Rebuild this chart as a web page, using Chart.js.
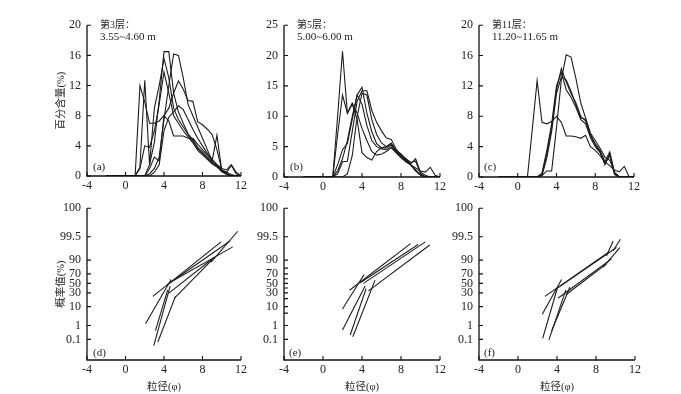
<!DOCTYPE html>
<html><head><meta charset="utf-8">
<script src="https://cdn.jsdelivr.net/npm/chart.js@4/dist/chart.umd.min.js"></script>
<style>
html,body{margin:0;padding:0;background:#fff;}
body{width:681px;height:394px;position:relative;overflow:hidden;}
canvas{position:absolute;}
.t{position:absolute;white-space:nowrap;color:#222;font-family:"Liberation Serif","Noto Sans CJK SC",serif;}
.cn{font-size:10px;line-height:12px;}
.nm{font-size:11px;line-height:13px;}
</style></head><body>
<canvas id="ca"></canvas><canvas id="cb"></canvas><canvas id="cc"></canvas>
<canvas id="cd"></canvas><canvas id="ce"></canvas><canvas id="cf"></canvas>
<div class="t cn" style="left:100px;top:19px">第3层：</div>
<div class="t nm" style="left:100px;top:29.5px">3.55~4.60 m</div>
<div class="t cn" style="left:297px;top:19px">第5层：</div>
<div class="t nm" style="left:297px;top:29.5px">5.00~6.00 m</div>
<div class="t cn" style="left:492px;top:19px">第11层：</div>
<div class="t nm" style="left:492px;top:29.5px">11.20~11.65 m</div>
<div class="t nm" style="left:93px;top:160px">(a)</div>
<div class="t nm" style="left:290px;top:160px">(b)</div>
<div class="t nm" style="left:484px;top:160px">(c)</div>
<div class="t nm" style="left:93px;top:345.5px">(d)</div>
<div class="t nm" style="left:289px;top:345.5px">(e)</div>
<div class="t nm" style="left:484px;top:345.5px">(f)</div>
<script>
// ---------- data ----------
const phi = [-2,-1.5,-1,-0.5,0,0.5,1,1.5,2,2.5,3,3.5,4,4.5,5,5.5,6,6.5,7,7.5,8,8.5,9,9.5,10,10.5,11,11.5,12];
const xTicks = [-4,0,4,8,12];

// panel (a) 第3层 percentages
const a1 = [0,0,0,0,0,0,0,12,9.8,7,7,7.3,8,7.3,5.3,5.3,5.3,5,5,4.2,3.5,2.8,2,1.5,0.8,0.5,1.4,0.3,0];
const a2 = [0,0,0,0,0,0,0,1.2,12.7,1.5,9,12,15.6,13,9,7.5,6.5,5.5,4.6,3.6,3,2.4,1.7,1.3,0.6,0.3,0,0,0];
const a3 = [0,0,0,0,0,0,0,0,0,1.5,4.5,10,16.5,16.5,11,8.5,7,5.6,4.8,3.8,3.2,2.5,1.8,1.4,0.6,0.2,0,0,0];
const a4 = [0,0,0,0,0,0,0,0,0,0.3,1,2.5,7.5,12,16.2,16,13,9.5,8,6.5,5,3.5,2,5.4,0.7,0.3,0,0,0];
const a5 = [0,0,0,0,0,0,0,1,4,3.8,6,9.5,13.8,11,8,7,6,5.2,4.4,3.4,2.8,2.2,1.6,1.2,0.6,0.3,0,0,0];
const a6 = [0,0,0,0,0,0,0,0,0,1,2.5,2,8,9,11,12.6,11.5,10,9.9,7.2,6.8,6.2,5.5,3.5,0.8,0.5,0.2,0,0];
const a7 = [0,0,0,0,0,0,0,0,0,0,0.5,1.5,6,7.8,8.5,9.3,8.8,7.5,6.2,5,4,3,2.2,1.5,1,0.8,1.5,0.5,0];
// panel (b) 第5层
const b1 = [0,0,0,0,0,0,0,10,20.7,10.5,12,9.5,4,3.2,2.8,4.2,4.8,5,5.6,4.2,3.4,2.6,2,1,0.4,0,0,0,0];
const b2 = [0,0,0,0,0,0,0,7,13.5,10.5,12.2,10.5,8,6,4.2,3.6,3.8,4.2,4.8,4,3.2,2.5,2,1.5,1,0.8,1.6,0.3,0];
const b3 = [0,0,0,0,0,0,0,2,4.5,5.5,9.5,13.5,14.8,10.5,7.5,5.5,4.8,4.8,5.3,4.2,3.6,3,2.2,3,0.8,0.3,0,0,0];
const b4 = [0,0,0,0,0,0,0,0.5,2.5,2.6,7.5,12.5,14.2,14.2,11,9,7.6,6.4,6.2,4.6,3.6,2.8,2,1,0.3,0,0,0,0];
const b5 = [0,0,0,0,0,0,0,0,0,0.5,3.5,10,13.8,13.5,9.5,7,5.6,5,5.5,4.4,3.8,3,2.4,2.6,0.6,0,0,0,0];
const b6 = [0,0,0,0,0,0,0,1,3,6,10,13.5,12,8.5,6,5,4.6,4.5,5,4,3.2,2.6,2,1.2,0.4,0,0,0,0];
// panel (c) 第11层
const c1 = [0,0,0,0,0,0,0,6.3,12.7,7.2,7,7.3,8,7.2,5.4,5.4,5.3,5.1,5.5,4,3.5,2.8,2,1.5,0.9,0.7,1.4,0,0];
const c2 = [0,0,0,0,0,0,0,0,0,0.2,0.8,0.8,6.5,12.8,16.1,15.8,13,9.8,7.8,5.8,4.8,3.8,2.6,2.2,0.6,0,0,0,0];
const c3 = [0,0,0,0,0,0,0,0,0,0.3,3,6.5,11.5,14.3,12.5,11,9.8,8,7.4,5.5,4.4,3.5,2,3.3,0.5,0,0,0,0];
const c4 = [0,0,0,0,0,0,0,0,0,0.5,3.5,7,12,13.8,11.5,10.5,9.2,7.6,7,5.2,4,3.2,1.8,2.8,0.3,0,0,0,0];
const c5 = [0,0,0,0,0,0,0,0,0,0.2,2.5,6,11,13.2,12.8,11.3,9.5,7.8,7.6,5.6,4.2,3.3,1.6,3,0.4,0,0,0,0];

// probability plots: segments [phi1, P1(%), phi2, P2(%)]
const segD = [
 [2.08,1.3,4.74,58.5],[2.94,0.03,4.64,44],[3.11,0.45,4.39,36],[3.36,0.06,5.19,23.6],
 [2.84,23.6,9.93,98.9],[4.29,46.4,10.86,99.04],[4.57,51.4,11.14,97.8],[4.5,29.5,9.24,92.5],
 [5.09,20.9,8.99,90.3],[8.89,87.9,11.66,99.8]
];
const segE = [
 [2.0,7.9,4.22,68.7],[2.0,0.5,4.32,44.4],[2.79,0.22,4.42,38.6],[3.06,0.16,5.34,57.1],
 [2.72,35.2,8.98,98.6],[3.81,51.4,9.76,98.4],[4.15,50,10.5,98.9],[4.66,34,10.95,98.3]
];
const segF = [
 [2.49,4.4,4.47,58.5],[2.53,0.12,4.03,39.4],[3.17,0.09,4.91,36],[3.45,0.45,5.32,41.4],
 [2.76,23.6,9.25,95.6],[3.79,36,10.1,97.6],[4.13,20.9,9.59,91.2],[4.91,26.4,9.08,86],
 [9.08,93.7,9.76,99.04],[9.76,96.4,10.5,99.25],[8.74,81.6,10.44,97.6]
];
const probTicks = [0.1,1,10,30,50,70,90,99.5,100];
const probLabels = ['0.1','1','10','30','50','70','90','99.5','100'];
const probTicksE = [0.1,1,5,10,20,30,40,50,60,70,80,90,99.5,100];
const probLabelsE = ['0.1','1','','10','','30','','50','','70','','90','99.5','100'];
const PROBIT_MIN = -4.23, PROBIT_MAX = 4.15;

// ---------- helpers ----------
function probit(p){
 const a=[-39.69683028665376,220.9460984245205,-275.9285104469687,138.3577518672690,-30.66479806614716,2.506628277459239];
 const b=[-54.47609879822406,161.5858368580409,-155.6989798598866,66.80131188771972,-13.28068155288572];
 const c=[-0.007784894002430293,-0.3223964580411365,-2.400758277161838,-2.549732539343734,4.374664141464968,2.938163982698783];
 const d=[0.007784695709041462,0.3224671290700398,2.445134137142996,3.754408661907416];
 const pl=0.02425, ph=1-pl; let q,r;
 if(p<pl){q=Math.sqrt(-2*Math.log(p));return (((((c[0]*q+c[1])*q+c[2])*q+c[3])*q+c[4])*q+c[5])/((((d[0]*q+d[1])*q+d[2])*q+d[3])*q+1);}
 if(p<=ph){q=p-0.5;r=q*q;return (((((a[0]*r+a[1])*r+a[2])*r+a[3])*r+a[4])*r+a[5])*q/(((((b[0]*r+b[1])*r+b[2])*r+b[3])*r+b[4])*r+1);}
 q=Math.sqrt(-2*Math.log(1-p));return -(((((c[0]*q+c[1])*q+c[2])*q+c[3])*q+c[4])*q+c[5])/((((d[0]*q+d[1])*q+d[2])*q+d[3])*q+1);
}
const pv = p => p >= 100 ? PROBIT_MAX : probit(p/100);

const INK = '#1c1c1c';
const serif = '"Liberation Serif","Noto Sans CJK SC",serif';
const axesPlugin = {
 id:'axes',
 afterDraw(chart){
  const {ctx, chartArea:ca, scales} = chart;
  ctx.save();
  ctx.strokeStyle = '#111'; ctx.lineWidth = 1.3;
  ctx.beginPath();
  ctx.moveTo(ca.left, ca.top); ctx.lineTo(ca.left, ca.bottom); ctx.lineTo(ca.right, ca.bottom);
  ctx.stroke();
  ctx.lineWidth = 1.1;
  ctx.beginPath();
  scales.y.ticks.forEach(t=>{const y=scales.y.getPixelForValue(t.value); ctx.moveTo(ca.left, y); ctx.lineTo(ca.left+4, y);});
  scales.x.ticks.forEach(t=>{const x=scales.x.getPixelForValue(t.value); ctx.moveTo(x, ca.bottom); ctx.lineTo(x, ca.bottom-4);});
  ctx.stroke();
  ctx.restore();
 }
};

function makeChart(id, area, datasets, yOpts, xTitle, yTitle, xH){
 const cv = document.getElementById(id);
 const L = area.l-45, T = area.t-10, W = area.r+12-L, H = area.b+xH-T;
 cv.width = W; cv.height = H;
 cv.style.left = L+'px'; cv.style.top = T+'px'; cv.style.width = W+'px'; cv.style.height = H+'px';
 return new Chart(cv, {
  type:'line',
  data:{datasets},
  options:{
   responsive:false, animation:false, events:[],
   layout:{padding:{left:0,right:12,top:10,bottom:0}, autoPadding:false},
   plugins:{legend:{display:false}, tooltip:{enabled:false}},
   elements:{point:{radius:0}, line:{borderWidth:1.1, borderColor:INK, tension:0}},
   scales:{
    x:{type:'linear', min:-4, max:12,
       afterBuildTicks:s=>{s.ticks = xTicks.map(v=>({value:v}));},
       afterFit:s=>{s.height = xH;},
       grid:{display:false, drawTicks:false}, border:{display:false},
       ticks:{color:'#222', font:{family:serif, size:12}, padding:3, maxRotation:0, autoSkip:false},
       title:{display:!!xTitle, text:xTitle||'', color:'#222', font:{family:serif, size:10.5}, padding:{top:0,bottom:0}}},
    y:Object.assign({type:'linear',
       afterFit:s=>{s.width = 45;},
       grid:{display:false, drawTicks:false}, border:{display:false},
       title:{display:!!yTitle, text:yTitle||'', color:'#222', font:{family:serif, size:10.5}, padding:{top:13,bottom:0}}
    }, yOpts)
   }
  },
  plugins:[axesPlugin]
 });
}

function curves(list){
 return list.map(arr=>({data: phi.map((x,i)=>({x, y:arr[i]})), borderColor:INK, borderWidth:1.1, pointRadius:0, fill:false}));
}
function segs(list){
 return list.map(s=>({data:[{x:s[0], y:pv(s[1])},{x:s[2], y:pv(s[3])}], borderColor:INK, borderWidth:1.1, pointRadius:0, fill:false}));
}
function linY(max, step){
 return {min:0, max, ticks:{stepSize:step, color:'#222', font:{family:serif, size:12}, padding:6, autoSkip:false}};
}
function probY(ticks, labels){
 return {min:PROBIT_MIN, max:PROBIT_MAX,
  afterBuildTicks:s=>{s.ticks = ticks.map(p=>({value:pv(p)}));},
  ticks:{color:'#222', font:{family:serif, size:12}, padding:6, autoSkip:false, callback:(v,i)=>labels[i]}};
}

makeChart('ca', {l:87,r:241,t:21.7,b:175.7}, curves([a1,a2,a3,a4,a5,a6,a7]), linY(20,4), null, '百分含量(%)', 26);
makeChart('cb', {l:284,r:440.3,t:21.7,b:176.7}, curves([b1,b2,b3,b4,b5,b6]), linY(25,5), null, null, 26);
makeChart('cc', {l:479,r:634,t:21.7,b:177.3}, curves([c1,c2,c3,c4,c5]), linY(20,4), null, null, 26);
makeChart('cd', {l:87,r:241,t:205,b:360}, segs(segD), probY(probTicks, probLabels), '粒径(φ)', '概率值(%)', 34);
makeChart('ce', {l:283.5,r:440,t:205,b:360}, segs(segE), probY(probTicksE, probLabelsE), '粒径(φ)', null, 34);
makeChart('cf', {l:479,r:635,t:205,b:360}, segs(segF), probY(probTicks, probLabels), '粒径(φ)', null, 34);
</script>
</body></html>
